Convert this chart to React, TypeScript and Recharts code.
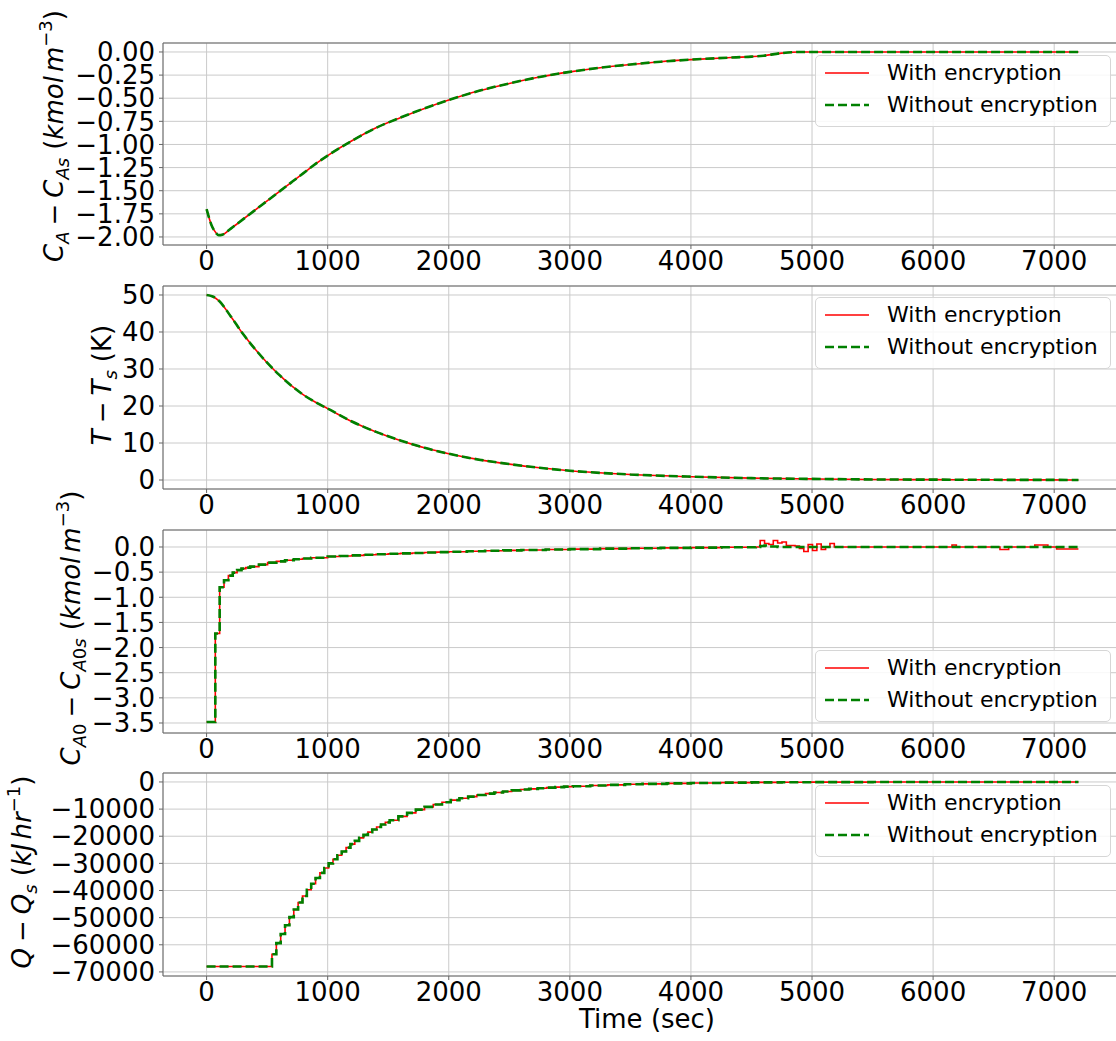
import React from 'react';
import { LineChart, Line, XAxis, YAxis, CartesianGrid, Legend, ReferenceLine } from 'recharts';

// shared time axis (sec)
const xTicks = [0, 1000, 2000, 3000, 4000, 5000, 6000, 7000];
const xDomain: [number, number] = [-360, 7560];

// C_A - C_As (kmol m^-3)
const caTime = [0, 40, 80, 100, 130, 200, 300, 400, 500, 600, 700, 800, 900, 1000, 1200, 1400, 1600, 1800, 2000, 2250, 2500, 2750, 3000, 3250, 3500, 3750, 4000, 4300, 4500, 4600, 4750, 4900, 5200, 6000, 7200];
const caVals = [-1.70, -1.87, -1.96, -1.98, -1.975, -1.91, -1.81, -1.71, -1.61, -1.51, -1.41, -1.31, -1.21, -1.12, -0.96, -0.82, -0.71, -0.61, -0.52, -0.42, -0.34, -0.27, -0.215, -0.17, -0.135, -0.105, -0.083, -0.062, -0.05, -0.04, -0.012, 0, 0, 0, 0];
const caTicks = [0, -0.25, -0.5, -0.75, -1, -1.25, -1.5, -1.75, -2];

// T - Ts (K)
const tTime = [0, 50, 100, 200, 300, 400, 500, 600, 700, 800, 900, 1000, 1200, 1400, 1600, 1800, 2000, 2250, 2500, 2750, 3000, 3500, 4000, 4500, 5000, 5500, 6000, 6500, 7200];
const tVals = [50, 49.6, 48.5, 44.2, 39.5, 35.4, 31.7, 28.4, 25.5, 23.0, 21.0, 19.3, 15.8, 13.0, 10.7, 8.7, 7.1, 5.5, 4.3, 3.3, 2.5, 1.5, 0.9, 0.5, 0.3, 0.15, 0.1, 0.05, 0.02];
const tTicks = [0, 10, 20, 30, 40, 50];

// C_A0 - C_A0s (kmol m^-3), piecewise constant input
const caoTime = [0, 72, 108, 144, 180, 216, 252, 288, 324, 360, 432, 504, 576, 648, 720, 792, 864,
  1000, 1100, 1200, 1300, 1400, 1500, 1600, 1700, 1800, 1900, 2000, 2150, 2300, 2450, 2600, 2800, 3000, 3250, 3500, 3750, 4000, 4250,
  4536, 4572, 4608, 4644, 4680, 4716, 4752, 4788, 4824, 4860, 4896, 4932, 4968, 5004, 5040, 5076, 5112, 5148, 5184, 5220,
  5600, 6156, 6192, 6552, 6624, 6840, 6948, 7020, 7200];
const caoEnc = [-3.48, -1.72, -0.80, -0.66, -0.57, -0.51, -0.46, -0.43, -0.41, -0.39, -0.35, -0.31, -0.285, -0.265, -0.245, -0.23, -0.215,
  -0.19, -0.178, -0.166, -0.155, -0.145, -0.135, -0.126, -0.118, -0.11, -0.102, -0.095, -0.085, -0.076, -0.068, -0.06, -0.05, -0.042, -0.033, -0.025, -0.018, -0.012, -0.006,
  0, 0.13, 0.07, 0.05, 0.13, 0.08, 0.10, 0.03, 0.03, 0.02, -0.03, -0.09, 0.05, -0.07, 0.06, -0.05, 0, 0.07, 0, 0,
  0, 0.04, 0, -0.05, 0, 0.04, 0, -0.04, -0.04];
const caoPlain = [-3.48, -1.72, -0.80, -0.66, -0.57, -0.51, -0.46, -0.43, -0.41, -0.39, -0.35, -0.31, -0.285, -0.265, -0.245, -0.23, -0.215,
  -0.19, -0.178, -0.166, -0.155, -0.145, -0.135, -0.126, -0.118, -0.11, -0.102, -0.095, -0.085, -0.076, -0.068, -0.06, -0.05, -0.042, -0.033, -0.025, -0.018, -0.012, -0.006,
  0, 0.02, 0.03, 0.01, 0.01, 0, 0, 0, 0, 0, 0, 0, 0, 0, 0, 0, 0, 0, 0, 0,
  0, 0, 0, 0, 0, 0, 0, 0, 0];
const caoTicks = [0, -0.5, -1, -1.5, -2, -2.5, -3, -3.5];

// Q - Qs (kJ hr^-1), piecewise constant input
const qTime = [0, 540, 576, 612, 648, 684, 720, 756, 792, 828, 864, 900, 936, 972, 1008, 1044, 1080, 1116, 1152, 1188, 1224, 1260, 1296, 1332, 1368, 1404, 1440, 1476, 1512,
  1584, 1656, 1728, 1800, 1872, 1944, 2016, 2088, 2160, 2232, 2304, 2376, 2448, 2520,
  2592, 2664, 2736, 2808, 2880, 2952, 3024, 3168, 3312, 3456, 3600, 3800, 4000, 4250, 4500, 4750, 5000, 5500, 6000, 7200];
const qVals = [-68000, -63500, -59400, -56000, -52800, -49800, -47000, -44400, -42000, -39700, -37500, -35400, -33500, -31700, -30000, -28500, -27000, -25600, -24200, -22900, -21700, -20600, -19500, -18500, -17500, -16600, -15700, -14900, -14100,
  -12700, -11400, -10200, -9200, -8300, -7500, -6700, -6000, -5400, -4800, -4300, -3900, -3500, -3100,
  -2800, -2550, -2300, -2100, -1900, -1720, -1560, -1300, -1060, -860, -700, -520, -380, -250, -160, -100, -50, -10, 0, 0];
const qTicks = [0, -10000, -20000, -30000, -40000, -50000, -60000, -70000];

const PAGE_W = 1116;
const PAGE_H = 1041;
const CHART_W = 1130;
const X_AXIS_H = 40;
const AXIS_COLOR = '#666';

type Part = { s: string; it?: boolean; pos?: 'sub' | 'sup'; dx?: number };

function MathLabel({ cx, cy, parts }: { cx: number; cy: number; parts: Part[] }) {
  let cur = 0;
  return (
    <text x={cx} y={cy} transform={`rotate(-90 ${cx} ${cy})`} textAnchor="middle" fontSize={26} fill="#000">
      {parts.map((p, i) => {
        const target = p.pos === 'sub' ? 6 : p.pos === 'sup' ? -11 : 0;
        const dy = target - cur;
        cur = target;
        return (
          <tspan key={i} dy={dy} dx={p.dx} fontStyle={p.it ? 'italic' : 'normal'} fontSize={p.pos ? 18 : 26}>
            {p.s}
          </tspan>
        );
      })}
    </text>
  );
}

// x axis title, fixed in page coordinates (ignores props injected by recharts)
function TimeLabel() {
  return (
    <text x={647} y={1028} textAnchor="middle" fontSize={26} fill="#000">
      Time (sec)
    </text>
  );
}

const minus = (s: string) => s.replace('-', '\u2212');

function LegendBox({ payload }: any) {
  return (
    <div
      style={{
        width: 296,
        height: 72,
        boxSizing: 'border-box',
        border: '1px solid #d6d6d6',
        borderRadius: 5,
        background: 'rgba(255,255,255,0.85)',
        padding: '1px 0 0 9px',
      }}
    >
      {(payload || []).map((entry: any) => {
        const dashed = entry.dataKey === 'plain';
        return (
          <div key={entry.value} style={{ display: 'flex', alignItems: 'center', height: 32 }}>
            <svg width={44} height={10} style={{ display: 'block' }}>
              <line
                x1={0}
                y1={5}
                x2={44}
                y2={5}
                stroke={entry.color}
                strokeWidth={dashed ? 2.6 : 1.6}
                strokeDasharray={dashed ? '9 4' : undefined}
              />
            </svg>
            <span style={{ marginLeft: 18, fontSize: 22, color: '#000', lineHeight: '22px' }}>{entry.value}</span>
          </div>
        );
      })}
    </div>
  );
}

interface PanelProps {
  data: { t: number; enc: number; plain: number }[];
  top: number;
  bottom: number;
  domain: [number, number];
  ticks: number[];
  fmt: (v: number) => string;
  step?: boolean;
  label: React.ReactElement;
  legendTop: number;
  xLabel?: boolean;
}

function Panel({ data, top, bottom, domain, ticks, fmt, step, label, legendTop, xLabel }: PanelProps) {
  const lineType = step ? 'stepAfter' : 'monotone';
  return (
    <div style={{ position: 'absolute', left: 0, top: 0 }}>
      <LineChart
        width={CHART_W}
        height={PAGE_H}
        data={data}
        margin={{ top, right: 8, bottom: PAGE_H - bottom - X_AXIS_H, left: 0 }}
      >
        <CartesianGrid stroke="#cacaca" strokeWidth={1} />
        <XAxis
          dataKey="t"
          type="number"
          domain={xDomain}
          ticks={xTicks}
          allowDataOverflow
          interval={0}
          height={X_AXIS_H}
          stroke={AXIS_COLOR}
          tickSize={4}
          tickMargin={3}
          tick={{ fontSize: 26, fill: '#000' }}
          label={xLabel ? <TimeLabel /> : undefined}
        />
        <YAxis
          type="number"
          domain={domain}
          ticks={ticks}
          allowDataOverflow
          interval={0}
          width={163}
          stroke={AXIS_COLOR}
          tickSize={4}
          tickMargin={4}
          tick={{ fontSize: 26, fill: '#000' }}
          tickFormatter={(v: number) => minus(fmt(v))}
          label={label}
        />
        <ReferenceLine y={domain[1]} stroke={AXIS_COLOR} strokeWidth={1.2} ifOverflow="extendDomain" />
        <Legend
          layout="vertical"
          align="center"
          verticalAlign="middle"
          wrapperStyle={{ left: 815, top: legendTop, width: 296, height: 72 }}
          content={<LegendBox />}
        />
        <Line
          type={lineType}
          dataKey="enc"
          name="With encryption"
          stroke="#ff0000"
          strokeWidth={1.6}
          dot={false}
          activeDot={false}
          isAnimationActive={false}
        />
        <Line
          type={lineType}
          dataKey="plain"
          name="Without encryption"
          stroke="#008000"
          strokeWidth={2.6}
          strokeDasharray="9 4"
          dot={false}
          activeDot={false}
          isAnimationActive={false}
        />
      </LineChart>
    </div>
  );
}

export default function App() {
  const caData = caTime.map((t, i) => ({ t, enc: caVals[i], plain: caVals[i] }));
  const tData = tTime.map((t, i) => ({ t, enc: tVals[i], plain: tVals[i] }));
  const caoData = caoTime.map((t, i) => ({ t, enc: caoEnc[i], plain: caoPlain[i] }));
  const qData = qTime.map((t, i) => ({ t, enc: qVals[i], plain: qVals[i] }));

  return (
    <div
      style={{
        position: 'absolute',
        left: 0,
        top: 0,
        width: PAGE_W,
        height: PAGE_H,
        overflow: 'hidden',
        background: '#fff',
        fontFamily: "'DejaVu Sans', sans-serif",
      }}
    >
      <Panel
        data={caData}
        top={43}
        bottom={245}
        domain={[-2.087, 0.097]}
        ticks={caTicks}
        fmt={(v) => v.toFixed(2)}
        legendTop={55}
        label={
          <MathLabel
            cx={63}
            cy={136}
            parts={[
              { s: 'C', it: true },
              { s: 'A', it: true, pos: 'sub' },
              { s: '\u2212', dx: 6 },
              { s: 'C', it: true, dx: 6 },
              { s: 'As', it: true, pos: 'sub' },
              { s: '(', dx: 8 },
              { s: 'kmol', it: true },
              { s: 'm', it: true, dx: 4 },
              { s: '\u22123', pos: 'sup' },
              { s: ')' },
            ]}
          />
        }
      />
      <Panel
        data={tData}
        top={286}
        bottom={489}
        domain={[-2.43, 52.43]}
        ticks={tTicks}
        fmt={(v) => String(v)}
        legendTop={297}
        label={
          <MathLabel
            cx={111}
            cy={385}
            parts={[
              { s: 'T', it: true },
              { s: '\u2212', dx: 6 },
              { s: 'T', it: true, dx: 6 },
              { s: 's', it: true, pos: 'sub' },
              { s: '(K)', dx: 8 },
            ]}
          />
        }
      />
      <Panel
        data={caoData}
        top={530}
        bottom={733}
        domain={[-3.699, 0.338]}
        ticks={caoTicks}
        fmt={(v) => v.toFixed(1)}
        step
        legendTop={650}
        label={
          <MathLabel
            cx={80}
            cy={628}
            parts={[
              { s: 'C', it: true },
              { s: 'A', it: true, pos: 'sub' },
              { s: '0', pos: 'sub' },
              { s: '\u2212', dx: 6 },
              { s: 'C', it: true, dx: 6 },
              { s: 'A', it: true, pos: 'sub' },
              { s: '0', pos: 'sub' },
              { s: 's', it: true, pos: 'sub' },
              { s: '(', dx: 8 },
              { s: 'kmol', it: true },
              { s: 'm', it: true, dx: 4 },
              { s: '\u22123', pos: 'sup' },
              { s: ')' },
            ]}
          />
        }
      />
      <Panel
        data={qData}
        top={773}
        bottom={976}
        domain={[-71500, 3300]}
        ticks={qTicks}
        fmt={(v) => String(v)}
        step
        legendTop={785}
        xLabel
        label={
          <MathLabel
            cx={31}
            cy={872}
            parts={[
              { s: 'Q', it: true },
              { s: '\u2212', dx: 6 },
              { s: 'Q', it: true, dx: 6 },
              { s: 's', it: true, pos: 'sub' },
              { s: '(', dx: 8 },
              { s: 'kJ', it: true },
              { s: 'hr', it: true, dx: 4 },
              { s: '\u22121', pos: 'sup' },
              { s: ')' },
            ]}
          />
        }
      />
    </div>
  );
}
